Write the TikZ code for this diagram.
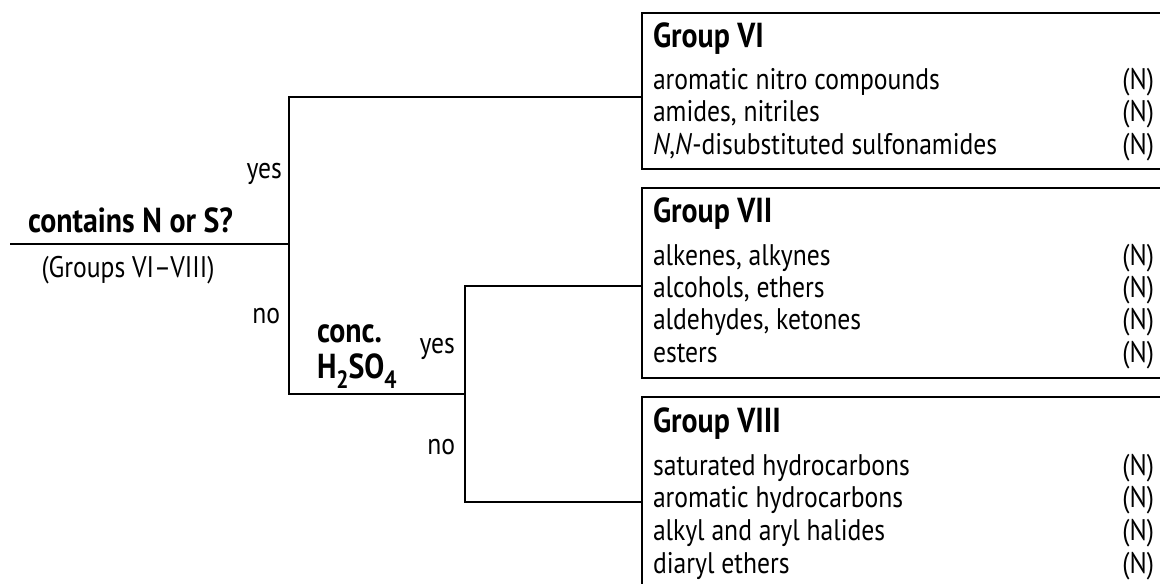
\documentclass[tikz,border=0pt]{standalone}
\usepackage{fontspec}
\setmainfont{PT Sans}
\newfontfamily\mainf[FakeStretch=0.86]{PT Sans}
\newlength\tmpw
\gdef\fs{27}\gdef\fsb{27}\gdef\fss{19}
\AtBeginDocument{%
  \setbox0\hbox{\mainf\fontsize{10}{12}\selectfont aromatic nitro compounds}%
  \setlength\tmpw{\wd0}%
  \ifdim\tmpw>1pt \pgfmathsetmacro\fsA{2870/\tmpw}\xdef\fs{\fsA}\fi
  \setbox0\hbox{\mainf\fontsize{10}{12}\selectfont\bfseries contains N or S?}%
  \setlength\tmpw{\wd0}%
  \ifdim\tmpw>1pt \pgfmathsetmacro\fsA{2050/\tmpw}\xdef\fsb{\fsA}\fi
  \pgfmathsetmacro\fsA{0.72*\fsb}\xdef\fss{\fsA}%
}
\newcommand\chsub[1]{\raisebox{-0.3em}{\fontsize{\fss}{\fss}\selectfont\bfseries #1}}
\tikzset{
  conn/.style={line width=1.8pt, line cap=rect},
  grpbox/.style={draw, line width=2.8pt, anchor=north west, outer sep=0pt,
    inner sep=0pt, minimum width=560pt},
  txt/.style={inner sep=0pt, outer sep=0pt, font=\mainf\fontsize{\fs}{\fs}\selectfont},
  btxt/.style={inner sep=0pt, outer sep=0pt, font=\mainf\fontsize{\fsb}{\fsb}\selectfont\bfseries},
  item/.style={txt, anchor=base west},
  nmark/.style={txt, anchor=base east},
  head/.style={btxt, anchor=base west}
}
\begin{document}
\begin{tikzpicture}[x=1pt,y=-1pt]
\useasboundingbox (0,0) rectangle (1160,584);

% boxes
\node[grpbox, minimum height=156pt] (g6) at (642,13) {};
\node[grpbox, minimum height=190pt] (g7) at (642,188) {};
\node[grpbox, minimum height=230pt] (g8) at (642,397) {};

% Group VI
\node[head] (g6h) at (653,47) {Group VI};
\node[item] (g6a) at (653,89) {aromatic nitro compounds};
\node[item] (g6b) at (653,121.5) {amides, nitriles};
\node[item] (g6c) at (653,154) {\textit{N},\textit{N}-disubstituted sulfonamides};
\node[nmark] (g6an) at (1154,89) {(N)};
\node[nmark] (g6bn) at (1154,121.5) {(N)};
\node[nmark] (g6cn) at (1154,154) {(N)};

% Group VII
\node[head] (g7h) at (653,222) {Group VII};
\node[item] (g7a) at (653,265) {alkenes, alkynes};
\node[item] (g7b) at (653,297.3) {alcohols, ethers};
\node[item] (g7c) at (653,329.6) {aldehydes, ketones};
\node[item] (g7d) at (653,362) {esters};
\node[nmark] (g7an) at (1154,265) {(N)};
\node[nmark] (g7bn) at (1154,297.3) {(N)};
\node[nmark] (g7cn) at (1154,329.6) {(N)};
\node[nmark] (g7dn) at (1154,362) {(N)};

% Group VIII
\node[head] (g8h) at (653,432) {Group VIII};
\node[item] (g8a) at (653,475) {saturated hydrocarbons};
\node[item] (g8b) at (653,507.7) {aromatic hydrocarbons};
\node[item] (g8c) at (653,540.3) {alkyl and aryl halides};
\node[item] (g8d) at (653,573) {diaryl ethers};
\node[nmark] (g8an) at (1154,475) {(N)};
\node[nmark] (g8bn) at (1154,507.7) {(N)};
\node[nmark] (g8cn) at (1154,540.3) {(N)};
\node[nmark] (g8dn) at (1154,573) {(N)};

% question labels
\node[btxt, anchor=base] (q1) at (130.5,232) {contains N or S?};
\node[txt, anchor=base] (q1s) at (128,277) {(Groups VI–VIII)};
\node[txt, anchor=base east] (yes1) at (282,178) {yes};
\node[txt, anchor=base east] (no1) at (280,323) {no};
\node[btxt, anchor=base west] (q2a) at (317,342) {conc.};
\node[btxt, anchor=base west] (q2b) at (317,378) {H\chsub{2}SO\chsub{4}};
\node[txt, anchor=base east] (yes2) at (455,353) {yes};
\node[txt, anchor=base east] (no2) at (455,454) {no};

% connector points
\coordinate (s0) at (11,244);
\coordinate (j1) at (289,244);
\coordinate (j1t) at (289,97);
\coordinate (j1b) at (289,394);
\coordinate (j2t) at (465,286);
\coordinate (j2b) at (465,502);

\draw[conn] (s0) -- (j1);
\draw[conn] (j1t -| g6.west) -- (j1t) -- (j1b) -- (j1b -| j2t);
\draw[conn] (j2t -| g7.west) -- (j2t) -- (j2b) -- (j2b -| g8.west);
\end{tikzpicture}
\end{document}
